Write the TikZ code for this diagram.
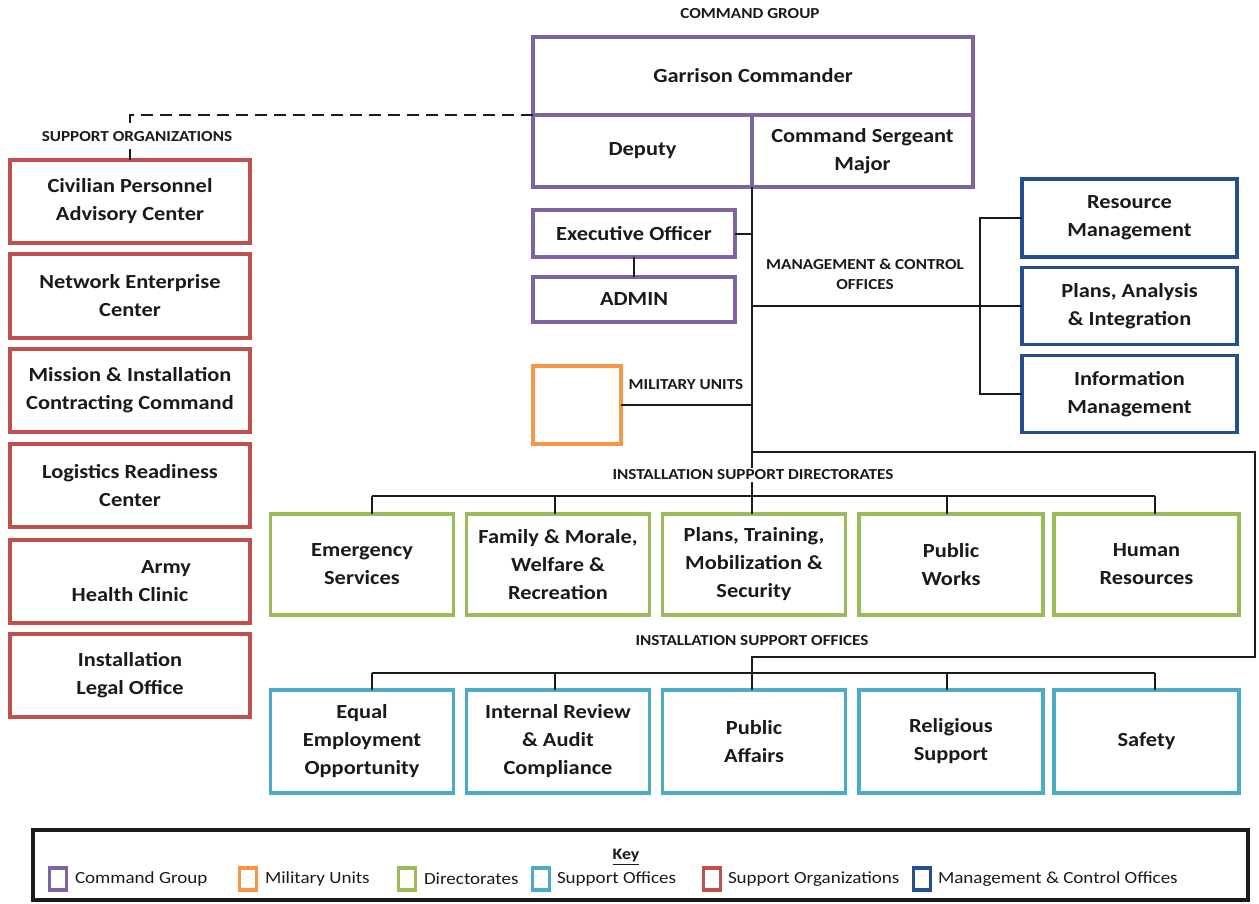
\documentclass[tikz,border=0pt]{standalone}
\usepackage{fontspec}
\setmainfont{Carlito}[FakeStretch=1.12]
\definecolor{cmdpurple}{HTML}{8064A2}
\definecolor{milorange}{HTML}{F79646}
\definecolor{dirgreen}{HTML}{9BBB59}
\definecolor{offcyan}{HTML}{4BACC6}
\definecolor{orgred}{HTML}{C0504D}
\definecolor{mgmtblue}{HTML}{25508F}
\definecolor{ink}{HTML}{1A1A1A}
\begin{document}
\begin{tikzpicture}[x=1pt,y=-1pt,
  every node/.style={inner sep=0pt,outer sep=0pt,text=ink},
  sized/.style 2 args={minimum width=#1pt,minimum height=#2pt},
  unit/.style={draw,line width=3.5pt,fill=white,align=center,
    font=\bfseries\fontsize{20}{28}\selectfont},
  cmdbox/.style={unit,draw=cmdpurple},
  milbox/.style={unit,draw=milorange},
  dirbox/.style={unit,draw=dirgreen},
  offbox/.style={unit,draw=offcyan},
  orgbox/.style={unit,draw=orgred},
  mgmtbox/.style={unit,draw=mgmtblue},
  grouplabel/.style={font=\bfseries\fontsize{15.3}{20}\selectfont,align=center,fill=white,inner sep=2pt},
  link/.style={line width=2pt,draw=ink},
  dashlink/.style={link,dash pattern=on 12pt off 7pt},
  keychip/.style={draw,line width=3.5pt,sized={17}{22}},
  keytext/.style={anchor=west,font=\fontsize{17}{20}\selectfont},
]
\useasboundingbox (0,0) rectangle (1259,903);

% ---- command group ----
\node[cmdbox,sized={440}{78}] (GC) at (753,76) {Garrison Commander};
\node[cmdbox,sized={219}{72}] (DEP) at (642.5,151) {Deputy};
\node[cmdbox,sized={221}{72}] (CSM) at (862.5,151) {Command Sergeant\\Major};
\node[grouplabel] (cglabel) at (750,14) {COMMAND GROUP};

\node[cmdbox,sized={202}{47}] (XO) at (634,233.5) {Executive Officer};
\node[cmdbox,sized={202}{45}] (ADM) at (634,299.5) {ADMIN};
\node[milbox,sized={88}{78}] (MU) at (577,405) {};
\node[grouplabel] (mulabel) at (686,385) {MILITARY UNITS};

% ---- management & control offices ----
\node[mgmtbox,sized={215}{78}] (M1) at (1129.5,218) {Resource\\Management};
\node[mgmtbox,sized={215}{77}] (M2) at (1129.5,306) {Plans, Analysis\\\& Integration};
\node[mgmtbox,sized={215}{77}] (M3) at (1129.5,394) {Information\\Management};
\node[grouplabel] (mclabel) at (865,274) {MANAGEMENT \& CONTROL\\OFFICES};

% ---- support organizations ----
\node[orgbox,sized={240}{83}] (O1) at (130,201.5) {Civilian Personnel\\Advisory Center};
\node[orgbox,sized={240}{84}] (O2) at (130,296) {Network Enterprise\\Center};
\node[orgbox,sized={240}{83}] (O3) at (130,390.5) {Mission \& Installation\\Contracting Command};
\node[orgbox,sized={240}{83}] (O4) at (130,485.5) {Logistics Readiness\\Center};
\node[orgbox,sized={240}{83}] (O5) at (130,581.5) {\hspace*{72pt}Army\\Health Clinic};
\node[orgbox,sized={240}{83}] (O6) at (130,675.5) {Installation\\Legal Office};

% ---- directorates ----
\node[dirbox,sized={183}{101}] (D1) at (362,564.5) {Emergency\\Services};
\node[dirbox,sized={183}{101}] (D2) at (558,564.5) {Family \& Morale,\\Welfare \&\\Recreation};
\node[dirbox,sized={183}{101}] (D3) at (754,564.5) {Plans, Training,\\Mobilization \&\\Security};
\node[dirbox,sized={184}{101}] (D4) at (951,564.5) {Public\\Works};
\node[dirbox,sized={185}{101}] (D5) at (1146.5,564.5) {Human\\Resources};

% ---- support offices ----
\node[offbox,sized={183}{103}] (S1) at (362,741.5) {Equal\\Employment\\Opportunity};
\node[offbox,sized={183}{103}] (S2) at (558,741.5) {Internal Review\\\& Audit\\Compliance};
\node[offbox,sized={183}{103}] (S3) at (754,741.5) {Public\\Affairs};
\node[offbox,sized={184}{103}] (S4) at (951,741.5) {Religious\\Support};
\node[offbox,sized={185}{103}] (S5) at (1146.5,741.5) {Safety};
\node[grouplabel] (offlabel) at (752,641) {INSTALLATION SUPPORT OFFICES};

% ---- junctions ----
\coordinate (trunkTop) at (DEP.south east);
\coordinate (loopA) at (752,452);
\coordinate (loopB) at (1255,452);
\coordinate (loopC) at (1255,657);
\coordinate (loopD) at (752,657);
\coordinate (offBus) at (752,673);
\coordinate (mgmtBar) at (980,306);
\coordinate (dashTurn) at (130,115);
\foreach \i/\x in {1/372,2/555,3/752,4/947,5/1155}{
  \coordinate (dd\i) at (\x,496);
  \coordinate (od\i) at (\x,673);
}

% ---- connectors ----
\draw[link] (trunkTop) -- (loopA) -- (loopB) -- (loopC) -- (loopD) -- (offBus);
\draw[link] (XO.east) -- (XO.east -| trunkTop);
\draw[link] (XO.south) -- (ADM.north);
\draw[link] (MU.east) -- (MU.east -| trunkTop);
\draw[link] (M2.west -| trunkTop) -- (M2.west);
\draw[link] (M1.west) -- (M1.west -| mgmtBar) -- (M3.west -| mgmtBar) -- (M3.west);
\draw[link] (loopA) -- (dd3);
\draw[link] (dd1) -- (dd5);
\draw[link] (od1) -- (od5);
\foreach \i in {1,...,5}{
  \draw[link] (dd\i) -- (dd\i |- D\i.north);
  \draw[link] (od\i) -- (od\i |- S\i.north);
}
\draw[dashlink] (GC.south west) -- (dashTurn) -- (O1.north);

% labels sitting on connectors
\node[grouplabel] (dirlabel) at (753,475) {INSTALLATION SUPPORT DIRECTORATES};
\node[grouplabel] (solabel) at (137,137) {SUPPORT ORGANIZATIONS};

% ---- key ----
\node[draw=ink,line width=4pt,sized={1215}{70}] (key) at (640.5,865) {};
\node[font=\bfseries\fontsize{16}{20}\selectfont] (keytitle) at (626,857) {\underline{Key}};
\node[keychip,draw=cmdpurple] (k1) at (58,879) {};
\node[keytext] at (75,879) {Command Group};
\node[keychip,draw=milorange] (k2) at (248,879) {};
\node[keytext] at (265,879) {Military Units};
\node[keychip,draw=dirgreen] (k3) at (407,879) {};
\node[keytext] at (424,879) {Directorates};
\node[keychip,draw=offcyan] (k4) at (541,879) {};
\node[keytext] at (557,879) {Support Offices};
\node[keychip,draw=orgred] (k5) at (712,879) {};
\node[keytext] at (728,879) {Support Organizations};
\node[keychip,draw=mgmtblue] (k6) at (922,879) {};
\node[keytext] at (938,879) {Management \& Control Offices};
\end{tikzpicture}
\end{document}
